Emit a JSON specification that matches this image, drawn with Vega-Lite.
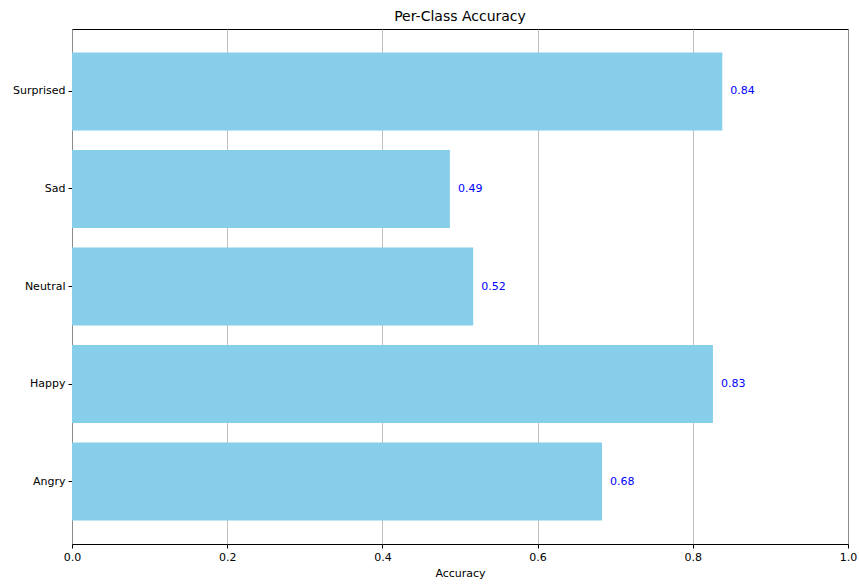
{
  "$schema": "https://vega.github.io/schema/vega-lite/v6.json",
  "autosize": {"type": "none"},
  "padding": {"left": 72, "top": 29, "right": 11, "bottom": 40},
  "width": 776,
  "height": 515,
  "background": "white",
  "title": {"text": "Per-Class Accuracy", "font": "DejaVu Sans", "fontSize": 14, "fontWeight": "normal", "color": "black", "offset": 5},
  "config": {
    "view": {"stroke": "black", "strokeWidth": 1},
    "axis": {"labelFont": "DejaVu Sans", "titleFont": "DejaVu Sans", "labelFontSize": 11, "titleFontSize": 11, "titleFontWeight": "normal", "labelColor": "black", "titleColor": "black", "domainColor": "black", "tickColor": "black"}
  },
  "data": {"values": [
    {"cls": "Surprised", "acc": 0.838},
    {"cls": "Sad", "acc": 0.487},
    {"cls": "Neutral", "acc": 0.517},
    {"cls": "Happy", "acc": 0.826},
    {"cls": "Angry", "acc": 0.683}
  ]},
  "encoding": {
    "y": {"field": "cls", "type": "nominal", "sort": ["Surprised", "Sad", "Neutral", "Happy", "Angry"],
      "scale": {"paddingInner": 0.2, "paddingOuter": 0.24},
      "axis": {"title": null, "tickSize": 4, "labelPadding": 3, "domain": false}},
    "x": {"field": "acc", "type": "quantitative", "scale": {"domain": [0, 1], "nice": false},
      "axis": {"title": "Accuracy", "values": [0, 0.2, 0.4, 0.6, 0.8, 1.0], "format": ".1f", "labelFlush": false, "grid": true, "gridColor": "#b0b0b0", "gridWidth": 0.8, "tickSize": 4, "labelPadding": 3, "titlePadding": 5, "domain": false}}
  },
  "layer": [
    {"mark": {"type": "bar", "color": "#87ceeb"}},
    {"mark": {"type": "text", "align": "left", "baseline": "middle", "dx": 8, "color": "blue", "font": "DejaVu Sans", "fontSize": 11},
     "encoding": {"text": {"field": "acc", "type": "quantitative", "format": ".2f"}}}
  ]
}
